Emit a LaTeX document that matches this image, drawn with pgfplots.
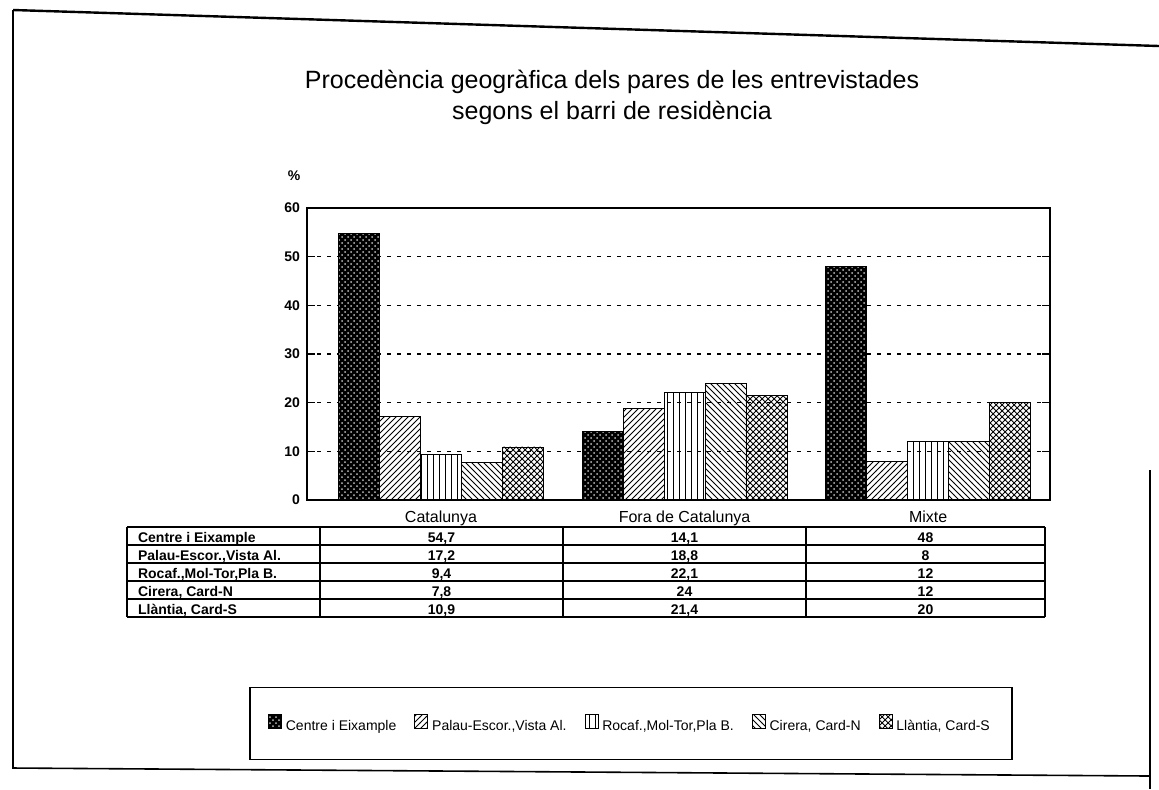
\documentclass[border=0pt]{standalone}
\usepackage{pgfplots}
\pgfplotsset{compat=1.18}
\usetikzlibrary{patterns}
\usepackage{fontspec}
\setmainfont{Liberation Sans}
\begin{document}
\begin{tikzpicture}
\begin{scope}[x=0.5pt,y=-0.5pt]
\path[use as bounding box] (0,0) rectangle (1159,789);
\draw[line width=1.2pt] (13,10) -- (1159,46);
\draw[line width=0.8pt] (13,10) -- (13,768) -- (1150,776);
\draw[line width=0.8pt] (1150,470) -- (1150,789);
\node[font=\fontsize{12.5}{14}\selectfont] at (612,82) {Procedència geogràfica dels pares de les entrevistades};
\node[font=\fontsize{12.5}{14}\selectfont] at (612,113) {segons el barri de residència};
\node[font=\fontsize{7}{8}\selectfont\bfseries] at (294,176) {\%};
% table
\foreach \yy in {527,545,563,581,599,617} \draw[line width=0.7pt] (127,\yy) -- (1045,\yy);
\foreach \xx in {127,320,563,806,1045} \draw[line width=0.7pt] (\xx,527) -- (\xx,617);
\begin{scope}[every node/.style={font=\fontsize{7}{8}\selectfont\bfseries, text height=1.6ex, text depth=0.3ex}]
\node[anchor=west] at (131,536) {Centre i Eixample};
\node[anchor=west] at (131,554) {Palau-Escor.,Vista Al.};
\node[anchor=west] at (131,572) {Rocaf.,Mol-Tor,Pla B.};
\node[anchor=west] at (131,590) {Cirera, Card-N};
\node[anchor=west] at (131,608) {Llàntia, Card-S};
\node at (441.5,536) {54,7}; \node at (684.5,536) {14,1}; \node at (925.5,536) {48};
\node at (441.5,554) {17,2}; \node at (684.5,554) {18,8}; \node at (925.5,554) {8};
\node at (441.5,572) {9,4}; \node at (684.5,572) {22,1}; \node at (925.5,572) {12};
\node at (441.5,590) {7,8}; \node at (684.5,590) {24}; \node at (925.5,590) {12};
\node at (441.5,608) {10,9}; \node at (684.5,608) {21,4}; \node at (925.5,608) {20};
\end{scope}
\end{scope}
\begin{axis}[
  at={(153.5pt,-250pt)}, anchor=south west,
  width=371.5pt, height=146pt, scale only axis,
  ybar=0pt, bar width=0.168,
  xmin=-0.55, xmax=2.5, ymin=0, ymax=60,
  xtick=data, xticklabels={Catalunya,Fora de Catalunya,Mixte},
  x tick style={draw=none},
  xticklabel style={yshift=2pt},
  ytick={0,10,20,30,40,50,60},
  ytick pos=both,
  y tick style={black, line width=0.6pt},
  major tick length=4pt,
  tick label style={font=\fontsize{8}{9}\selectfont},
  yticklabel style={font=\fontsize{7}{8}\selectfont\bfseries},
  /pgf/number format/assume math mode=true,
  ymajorgrids,
  major grid style={black, line width=0.6pt, dash pattern=on 2pt off 3pt},
  axis line style={line width=1pt},
  legend columns=5,
  legend style={at={(0.436,-0.765)}, anchor=center, draw=black, line width=0.8pt,
    font=\fontsize{7}{8}\selectfont, inner xsep=9pt, inner ysep=11pt,
    nodes={text height=1.6ex, text depth=0.3ex},
    /tikz/every even column/.append style={column sep=7pt}},
  legend image code/.code={\draw[#1, line width=0.4pt] (0pt,-2.5pt) rectangle (6.5pt,4.5pt);},
]
\addplot[draw=black, fill=black, postaction={pattern=crosshatch dots, pattern color=white!75!black}] coordinates {(0,54.7) (1,14.1) (2,48)};
\addplot[draw=black, pattern=north east lines] coordinates {(0,17.2) (1,18.8) (2,8)};
\addplot[draw=black, pattern=vertical lines] coordinates {(0,9.4) (1,22.1) (2,12)};
\addplot[draw=black, pattern=north west lines] coordinates {(0,7.8) (1,24) (2,12)};
\addplot[draw=black, pattern=crosshatch] coordinates {(0,10.9) (1,21.4) (2,20)};
\legend{{Centre i Eixample}, {Palau-Escor.,Vista Al.}, {Rocaf.,Mol-Tor,Pla B.}, {Cirera, Card-N}, {Llàntia, Card-S}}
\end{axis}
\end{tikzpicture}
\end{document}
